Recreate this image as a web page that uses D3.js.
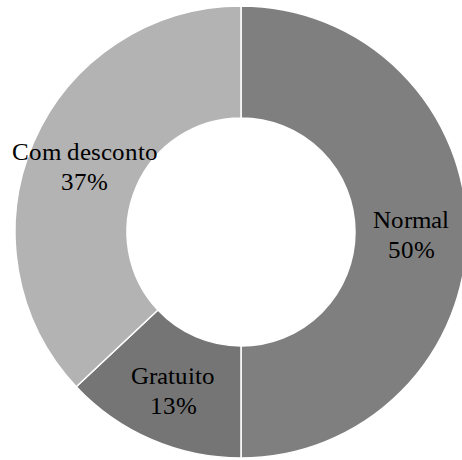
<!DOCTYPE html>
<html><head><meta charset="utf-8">
<script src="https://cdn.jsdelivr.net/npm/d3@7"></script>
<style>
@font-face { font-family: "ChartSerif"; src: local("Liberation Serif"), local("LiberationSerif"), local("Tinos"), local("Times New Roman"); }
html,body{margin:0;padding:0;background:#fff;}
</style>
</head><body>
<svg id="c" width="462" height="460"></svg>
<script>
const categories = ["Normal", "Gratuito", "Com desconto"];
const values = [50, 13, 37];
const labels = ["50%", "13%", "37%"];
const colors = ["#7f7f7f", "#757575", "#b3b3b3"];

const svg = d3.select("#c");
const cx = 241, cy = 232, rOut = 226, rIn = 114;
const data = categories.map((c, i) => ({cat: c, value: values[i], label: labels[i], color: colors[i]}));
const pie = d3.pie().value(d => d.value).sort(null);
const arc = d3.arc().innerRadius(rIn).outerRadius(rOut);
const arcs = pie(data);

svg.append("g").attr("transform", `translate(${cx},${cy})`)
  .selectAll("path").data(arcs).join("path")
  .attr("d", arc)
  .attr("fill", d => d.data.color)
  .attr("stroke", "#fff")
  .attr("stroke-width", 1.5);

const lines = [];
arcs.forEach(d => {
  const [x, y] = arc.centroid(d);
  lines.push({t: d.data.cat, x: cx + x, y: cy + y - 4.5});
  lines.push({t: d.data.label, x: cx + x, y: cy + y + 25.5});
});
svg.selectAll("text").data(lines).join("text")
  .attr("x", d => d.x).attr("y", d => d.y)
  .style("font-family", '"ChartSerif", "Liberation Serif", "Times New Roman", serif')
  .style("font-size", "25px")
  .style("text-anchor", "middle")
  .attr("fill", "#000")
  .text(d => d.t);
</script>
</body></html>
